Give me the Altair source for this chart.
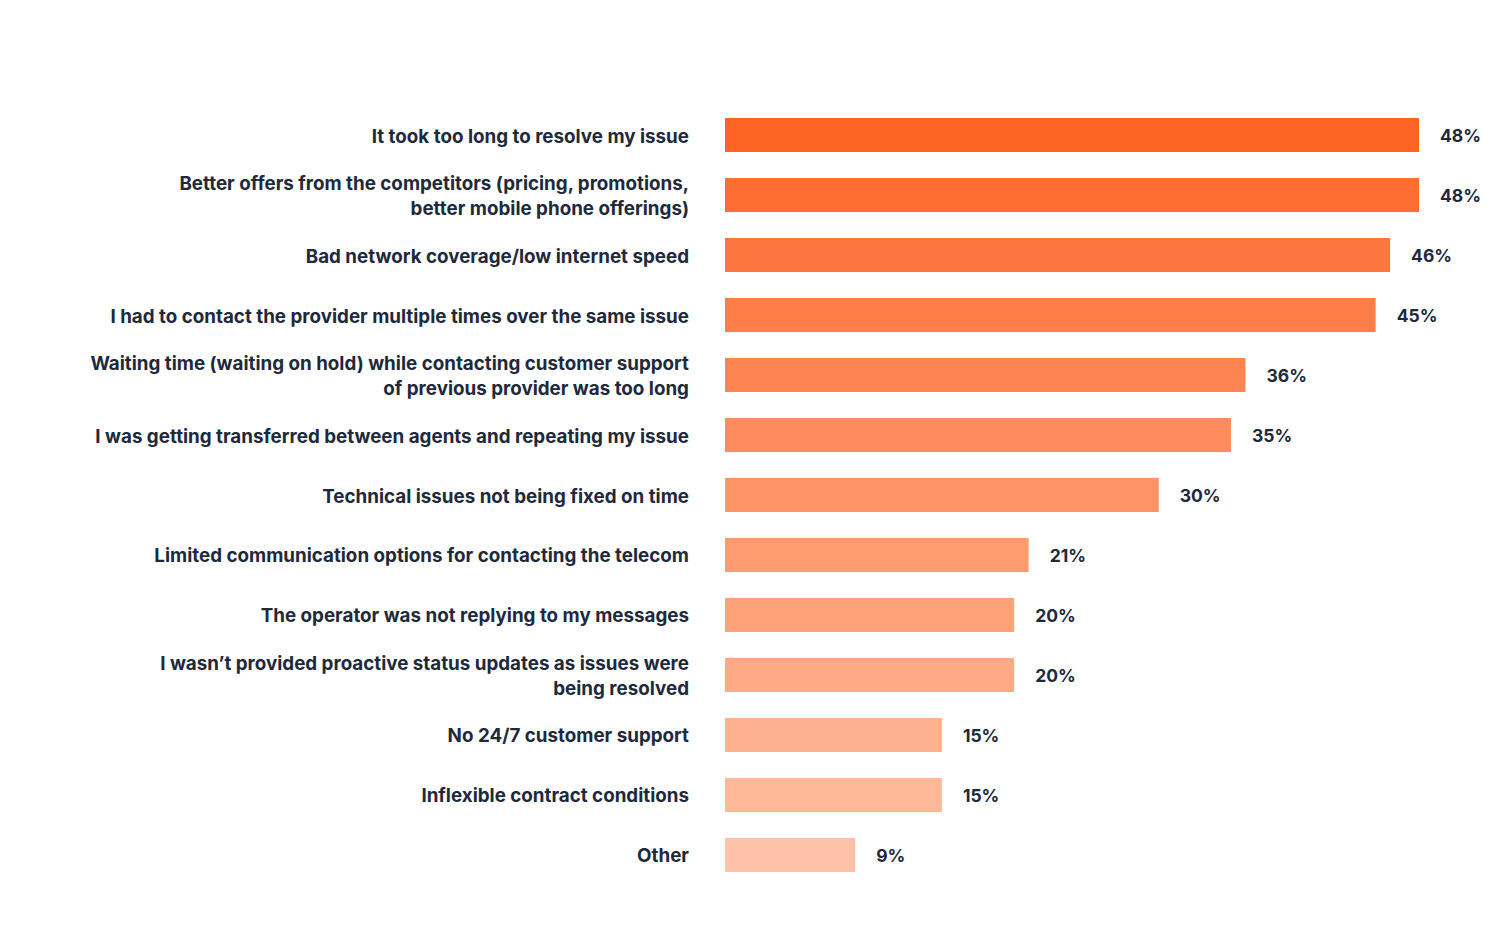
import altair as alt
import pandas as pd

categories = [
    "It took too long to resolve my issue",
    "Better offers from the competitors (pricing, promotions,|better mobile phone offerings)",
    "Bad network coverage/low internet speed",
    "I had to contact the provider multiple times over the same issue",
    "Waiting time (waiting on hold) while contacting customer support|of previous provider was too long",
    "I was getting transferred between agents and repeating my issue",
    "Technical issues not being fixed on time",
    "Limited communication options for contacting the telecom",
    "The operator was not replying to my messages",
    "I wasn\u2019t provided proactive status updates as issues were|being resolved",
    "No 24/7 customer support",
    "Inflexible contract conditions",
    "Other",
]
values = [48, 48, 46, 45, 36, 35, 30, 21, 20, 20, 15, 15, 9]
colors = [
    "#FE6524", "#FE6E32", "#FE763F", "#FE7D48", "#FE8552", "#FE8C5C",
    "#FE9466", "#FE9C70", "#FEA27A", "#FEAA85", "#FEB18F", "#FEB899", "#FEC1A9",
]

df = pd.DataFrame({"category": categories, "value": values, "color": colors})
df["label"] = df["value"].astype(str) + "%"
df["lines"] = df["category"].str.count(r"\|") + 1

FONT = "Inter"
TEXT_COLOR = "#1E293B"

y_enc = alt.Y(
    "category:N",
    sort=categories,
    scale=alt.Scale(paddingInner=0.4333, paddingOuter=0.2167),
    axis=None,
)
x_enc = alt.X(
    "value:Q",
    scale=alt.Scale(domain=[0, 48], nice=False, zero=True),
    axis=None,
)

base = alt.Chart(df)

bars = base.mark_bar(cornerRadius=0).encode(
    y=y_enc,
    x=x_enc,
    color=alt.Color("color:N", scale=None),
)

values_text = base.mark_text(
    align="left", baseline="middle", dx=21, dy=2, font=FONT, fontSize=17.5,
    fontWeight=700, color=TEXT_COLOR,
).encode(
    y=alt.Y("category:N", sort=categories),
    x=alt.X("value:Q"),
    text="label:N",
)

label_style = dict(
    align="right", baseline="middle", font=FONT, fontSize=18.8,
    fontWeight=700, color=TEXT_COLOR, lineBreak="|", lineHeight=25,
)

labels_one = base.transform_filter("datum.lines == 1").mark_text(
    dy=1.5, **label_style
).encode(
    y=alt.Y("category:N", sort=categories),
    x=alt.value(-36),
    text="category:N",
)

labels_two = base.transform_filter("datum.lines == 2").mark_text(
    dy=-11, **label_style
).encode(
    y=alt.Y("category:N", sort=categories),
    x=alt.value(-36),
    text="category:N",
)

chart = (
    alt.layer(bars, values_text, labels_one, labels_two)
    .properties(
        width=694,
        height=780,
        autosize=alt.AutoSizeParams(type="none"),
        padding={"left": 725, "top": 105, "right": 81, "bottom": 67},
        background="white",
    )
    .configure_view(stroke=None)
)

chart.save("out.html", embed_options={"renderer": "svg", "actions": False})
